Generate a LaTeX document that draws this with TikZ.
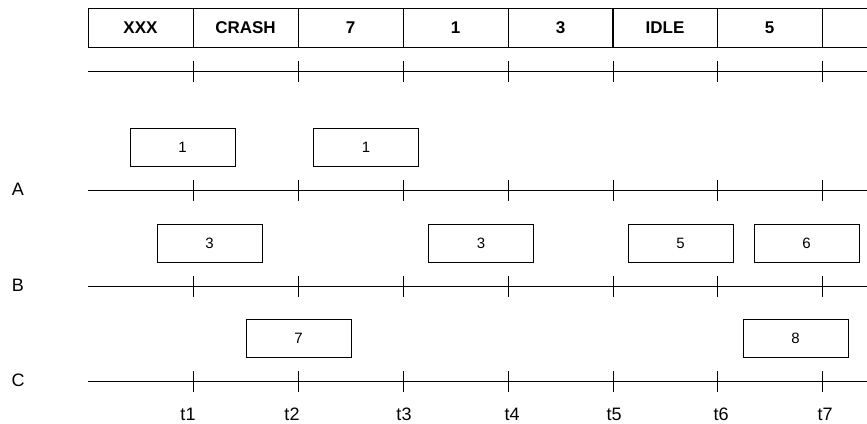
\documentclass[tikz,border=0pt]{standalone}
\usepackage{fontspec}
\setmainfont{Liberation Sans}
\begin{document}
\begin{tikzpicture}[
	x=1pt, y=-1pt, line width=0.8pt,
	cell/.style={ draw, line width=0.8pt, inner sep=0pt, minimum width=105pt, minimum height=39pt, font=\fontsize{17}{20}\selectfont\bfseries },
	job/.style={ draw, line width=0.8pt, inner sep=0pt, minimum width=105pt, minimum height=38pt, font=\fontsize{15}{18}\selectfont },
	tname/.style={ inner sep=0pt, anchor=center, font=\fontsize{18}{21}\selectfont }
]
\useasboundingbox (0,0) rectangle (867,423);

% header: what runs in each slot
\foreach \n/\x/\s in {1/140.5/XXX, 2/245.5/CRASH, 3/350.5/7, 4/455.5/1, 5/560.5/3, 6/665/IDLE, 7/769.5/5, 8/874.5/{}}
	\node at (\x,27.5) (h\n) [cell] {\s};

% time lines
\foreach \r/\y in {T/71, A/190, B/286, C/381} {
	\coordinate (\r0) at (88,\y);
	\coordinate (\r1) at (875,\y);
	\draw (\r0) -- (\r1);
	\foreach \x in {193,298,403,508,613,717,822}
		\draw (\x,\y-10) -- (\x,\y+11);
}

% row names
\node at (18,189.5) (nA) [tname] {A};
\node at (18,285.5) (nB) [tname] {B};
\node at (18,380.5) (nC) [tname] {C};

% time marks
\foreach \t/\x in {1/188,2/292,3/404,4/512,5/614,6/721,7/825}
	\node at (\x,414.5) (t\t) [tname] {t\t};

% row A
\node at (182.5,147.5) (a1) [job] {1};
\node at (366,147.5) (a2) [job] {1};

% row B
\node at (209.5,243) (b1) [job] {3};
\node at (481,243) (b2) [job] {3};
\node at (680.5,243) (b3) [job] {5};
\node at (806.5,243) (b4) [job] {6};

% row C
\node at (298.5,338.5) (c1) [job] {7};
\node at (795.5,338.5) (c2) [job] {8};

\end{tikzpicture}
\end{document}
